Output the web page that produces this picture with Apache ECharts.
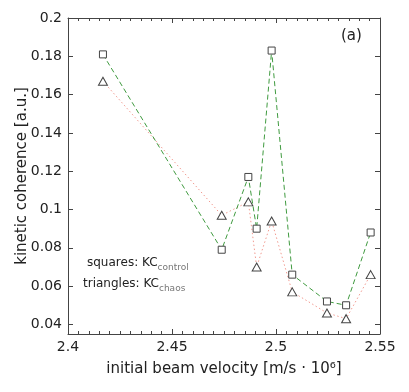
<!DOCTYPE html>
<html>
<head>
<meta charset="utf-8">
<script src="https://cdn.jsdelivr.net/npm/echarts@6/dist/echarts.min.js"></script>
<style>
  html, body { margin: 0; padding: 0; background: #fff; }
  #main { width: 409px; height: 392px; }
</style>
</head>
<body>
<div id="main"></div>
<script>
// beam velocity (x 10^6 m/s)
const velocity = [2.4168, 2.4739, 2.4867, 2.4907, 2.4979, 2.5078, 2.5245, 2.5337, 2.5455];
// KC control (squares) and KC chaos (triangles)
const kcControl = [0.181, 0.079, 0.117, 0.090, 0.183, 0.066, 0.052, 0.050, 0.088];
const kcChaos = [0.167, 0.097, 0.104, 0.070, 0.094, 0.057, 0.046, 0.043, 0.066];
const yTicks = [0.04, 0.06, 0.08, 0.1, 0.12, 0.14, 0.16, 0.18, 0.2];

const font = 'DejaVu Sans';
const axisColor = '#444';

function pairs(xs, ys) {
    return xs.map((x, i) => [x, ys[i]]);
}

let chart = echarts.init(document.getElementById('main'));
chart.setOption({
    animation: false,
    textStyle: { fontFamily: font },
    grid: { left: 68, right: 29, top: 18, bottom: 58 },
    xAxis: [{
        type: 'value', min: 2.4, max: 2.55, interval: 0.05,
        name: 'initial beam velocity [m/s · 10⁶]',
        nameLocation: 'middle', nameGap: 28,
        nameTextStyle: { fontSize: 15, color: '#222', fontFamily: font },
        axisLine: { lineStyle: { color: axisColor } },
        axisTick: { inside: true, length: 5, lineStyle: { color: axisColor } },
        minorTick: { show: true, splitNumber: 10, length: 3, lineStyle: { color: axisColor } },
        axisLabel: { fontSize: 14, color: '#222', margin: 6 },
        splitLine: { show: false }
    }, {
        type: 'value', min: 2.4, max: 2.55, interval: 0.05, position: 'top',
        axisLine: { lineStyle: { color: axisColor } },
        axisTick: { inside: true, length: 5, lineStyle: { color: axisColor } },
        minorTick: { show: true, splitNumber: 10, length: 3, lineStyle: { color: axisColor } },
        axisLabel: { show: false },
        splitLine: { show: false }
    }],
    yAxis: [{
        type: 'value', min: 0.035, max: 0.2,
        name: 'kinetic coherence [a.u.]',
        nameLocation: 'middle', nameGap: 38, nameMoveOverlap: false,
        nameTextStyle: { fontSize: 15, color: '#222', fontFamily: font },
        axisLine: { show: true, lineStyle: { color: axisColor } },
        axisTick: { show: true, inside: true, length: 5, customValues: yTicks, lineStyle: { color: axisColor } },
        axisLabel: { fontSize: 14, color: '#222', margin: 6, customValues: yTicks },
        splitLine: { show: false }
    }, {
        type: 'value', min: 0.035, max: 0.2, position: 'right',
        axisLine: { show: true, lineStyle: { color: axisColor } },
        axisTick: { show: true, inside: true, length: 5, customValues: yTicks, lineStyle: { color: axisColor } },
        axisLabel: { show: false, customValues: yTicks },
        splitLine: { show: false }
    }],
    series: [{
        type: 'line',
        data: pairs(velocity, kcChaos),
        symbol: 'triangle', symbolSize: [9, 8],
        itemStyle: { color: '#fff', borderColor: '#444', borderWidth: 1 },
        lineStyle: { color: '#f19a90', width: 1, type: [1.5, 2.5] },
        z: 2
    }, {
        type: 'line',
        data: pairs(velocity, kcControl),
        symbol: 'rect', symbolSize: 7,
        itemStyle: { color: '#fff', borderColor: '#444', borderWidth: 1 },
        lineStyle: { color: '#3f9a3f', width: 1, type: [5, 3] },
        z: 3
    }],
    graphic: [{
        type: 'text', left: 87, top: 257,
        style: {
            text: '{a|squares: KC}{b|control}',
            rich: {
                a: { fontSize: 12, fill: '#222', fontFamily: font },
                b: { fontSize: 9, fill: '#777', fontFamily: font, padding: [9, 0, 0, 0] }
            }
        }
    }, {
        type: 'text', left: 83, top: 278,
        style: {
            text: '{a|triangles: KC}{b|chaos}',
            rich: {
                a: { fontSize: 12, fill: '#222', fontFamily: font },
                b: { fontSize: 9, fill: '#777', fontFamily: font, padding: [9, 0, 0, 0] }
            }
        }
    }, {
        type: 'text', left: 341, top: 29,
        style: { text: '(a)', fontSize: 15, fill: '#222', fontFamily: font }
    }]
});
</script>
</body>
</html>
